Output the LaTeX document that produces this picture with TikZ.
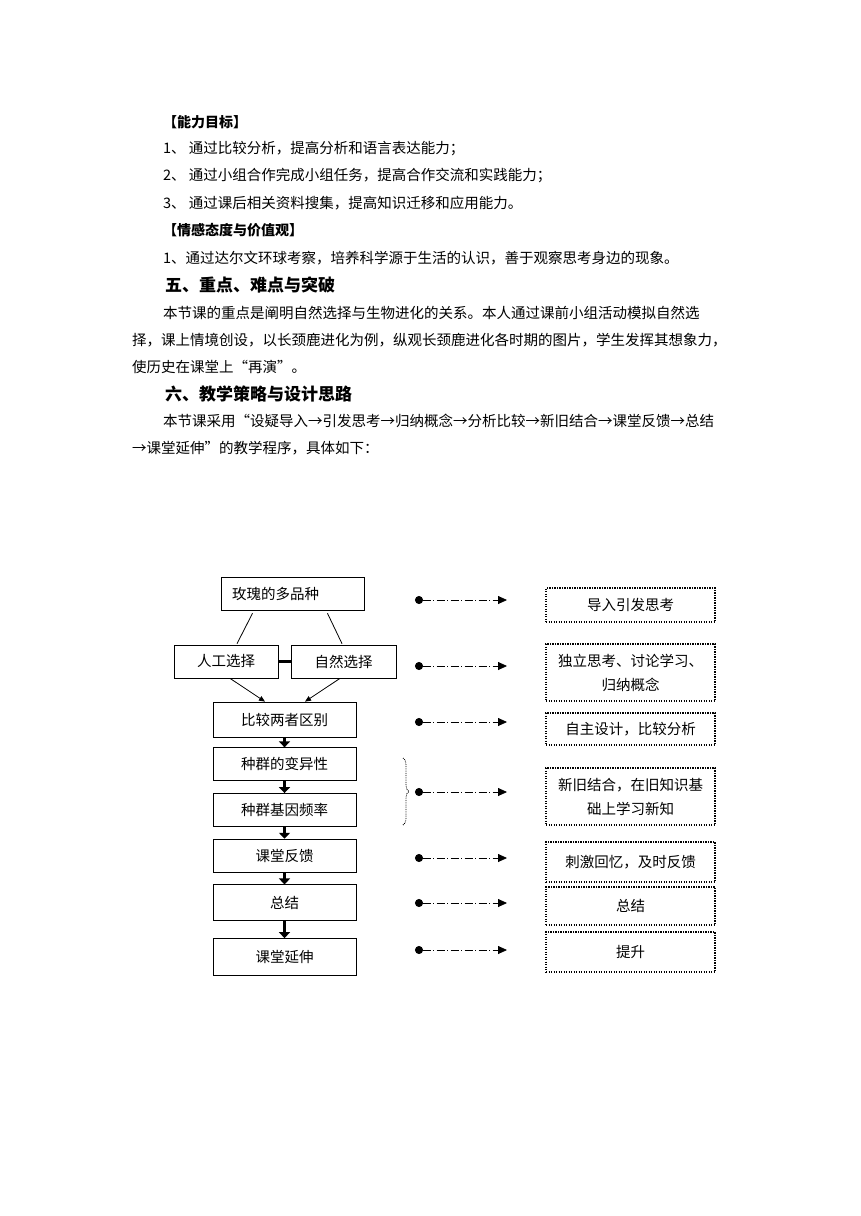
\documentclass[tikz,border=0pt]{standalone}
\usepackage{fontspec}
\setmainfont{Noto Sans CJK SC}
\usetikzlibrary{arrows.meta, positioning, calc, decorations.pathreplacing}

\begin{document}
\begin{tikzpicture}[x=1pt, y=-1pt, font=\fontsize{14.5}{24}\selectfont,
    box/.style={draw, line width=0.7pt, minimum width=143pt, minimum height=33pt, inner sep=0pt},
    dbox/.style={draw, dash pattern=on 1.2pt off 1.3pt, line width=1.6pt, minimum width=169pt, inner sep=0pt, align=center},
    txt/.style={anchor=west, inner sep=0pt},
    head/.style={txt, font=\fontsize{17}{20}\selectfont\bfseries},
    sub/.style={txt, font=\fontsize{14}{20}\selectfont\bfseries},
    flow/.style={line width=2.8pt, -{Triangle[length=6pt, width=11pt]}},
    thin/.style={line width=0.8pt, -{Triangle[length=6pt, width=5pt]}},
    link/.style={line width=0.8pt, dash pattern=on 8pt off 2.5pt on 1pt off 2.5pt,
      {Circle[length=8pt]}-{Triangle[length=9pt, width=8pt]}}]
    \useasboundingbox (0,0) rectangle (860,1216);

    % Text above the chart
    \node[sub] (goal) at (163,122) {【能力目标】};
    \node[txt] (g1) at (163,149) {1、 通过比较分析，提高分析和语言表达能力；};
    \node[txt] (g2) at (163,176) {2、 通过小组合作完成小组任务，提高合作交流和实践能力；};
    \node[txt] (g3) at (163,203) {3、 通过课后相关资料搜集，提高知识迁移和应用能力。};
    \node[sub] (att) at (163,230) {【情感态度与价值观】};
    \node[txt] (a1) at (163,258) {1、通过达尔文环球考察，培养科学源于生活的认识，善于观察思考身边的现象。};
    \node[head] (h5) at (165,285) {五、重点、难点与突破};
    \node[txt] (p1) at (163,313) {本节课的重点是阐明自然选择与生物进化的关系。本人通过课前小组活动模拟自然选};
    \node[txt] (p2) at (132,340) {择，课上情境创设，以长颈鹿进化为例，纵观长颈鹿进化各时期的图片，学生发挥其想象力，};
    \node[txt] (p3) at (132,367) {使历史在课堂上“再演”。};
    \node[head] (h6) at (165,394) {六、教学策略与设计思路};
    \node[txt] (q1) at (163,421) {本节课采用“设疑导入→引发思考→归纳概念→分析比较→新旧结合→课堂反馈→总结};
    \node[txt] (q2) at (132,448) {→课堂延伸”的教学程序，具体如下：};

    % Left column
    \node[box, text width=121pt, inner xsep=11pt, align=left] (rose) at (292.5,593.5) {玫瑰的多品种};
    \node[box, minimum width=104pt] (ai) at (226,661.5) {人工选择};
    \node[box, minimum width=105pt] (zr) at (343.5,661.5) {自然选择};
    \node[box, minimum height=35pt] (cmp) at (284.5,719.5) {比较两者区别};
    \node[box, below=10pt of cmp] (var) {种群的变异性};
    \node[box, below=12pt of var] (freq) {种群基因频率};
    \node[box, below=12pt of freq] (fb) {课堂反馈};
    \node[box, minimum height=36pt, below=12pt of fb] (sum) {总结};
    \node[box, minimum height=37pt, below=17pt of sum] (ext) {课堂延伸};
    \draw[line width=0.8pt] ($(rose.south)+(-40,3)$) -- ($(ai.north)+(11,-1)$);
    \draw[line width=0.8pt] ($(rose.south)+(35,3)$) -- ($(zr.north)+(-1.5,-1)$);
    \draw[line width=2.6pt] (ai) -- (zr);
    \draw[thin] ($(ai.south)+(4,0)$) -- ($(cmp.north)+(-19.5,0)$);
    \draw[thin] ($(zr.south)+(-3.5,0)$) -- ($(cmp.north)+(20.5,0)$);
    \draw[flow] (cmp) -- (var);
    \draw[flow] (var) -- (freq);
    \draw[flow] (freq) -- (fb);
    \draw[flow] (fb) -- (sum);
    \draw[flow] (sum) -- (ext);

    % Right column
    \node[dbox, minimum height=34pt] (r1) at (630.5,605) {导入引发思考};
    \node[dbox, minimum height=57pt] (r2) at (630.5,672.5) {独立思考、讨论学习、\\归纳概念};
    \node[dbox, minimum height=32pt] (r3) at (630.5,729) {自主设计，比较分析};
    \node[dbox, minimum height=57pt] (r4) at (630.5,796.5) {新旧结合，在旧知识基\\础上学习新知};
    \node[dbox, minimum height=40pt] (r5) at (630.5,862) {刺激回忆，及时反馈};
    \node[dbox, minimum height=38pt] (r6) at (630.5,906) {总结};
    \node[dbox, minimum height=40pt] (r7) at (630.5,952) {提升};

    % Brace over the two population boxes
    \draw[densely dotted, line width=0.8pt, decorate, decoration={brace, amplitude=6pt}] (403,758) -- (403,825);

    % Links between the columns
    \coordinate (s1) at (415,600); \coordinate (e1) at (507,600);
    \coordinate (s2) at (415,666); \coordinate (e2) at (507,666);
    \coordinate (s3) at (415,722); \coordinate (e3) at (507,722);
    \coordinate (s4) at (415,792); \coordinate (e4) at (507,792);
    \coordinate (s5) at (415,858); \coordinate (e5) at (507,858);
    \coordinate (s6) at (415,903); \coordinate (e6) at (507,903);
    \coordinate (s7) at (415,950); \coordinate (e7) at (507,950);
    \draw[link] (s1) -- (e1);
    \draw[link] (s2) -- (e2);
    \draw[link] (s3) -- (e3);
    \draw[link] (s4) -- (e4);
    \draw[link] (s5) -- (e5);
    \draw[link] (s6) -- (e6);
    \draw[link] (s7) -- (e7);
\end{tikzpicture}
\end{document}
